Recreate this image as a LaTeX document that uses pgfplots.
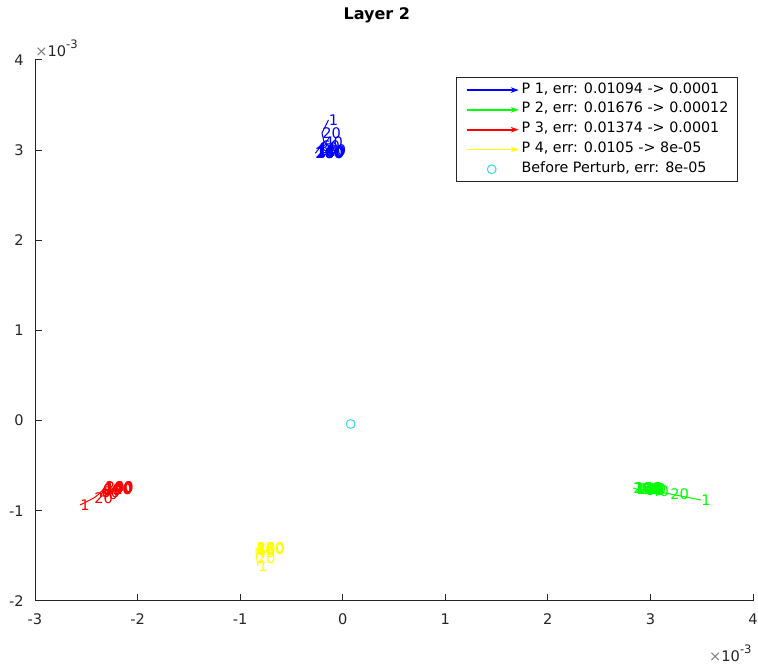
\documentclass[border=0pt]{standalone}
\usepackage{fontspec}
\setmainfont{DejaVu Sans}
\usepackage{pgfplots}
\usepackage{pgfplotstable}
\pgfplotsset{compat=1.18}
\usetikzlibrary{arrows.meta}
\definecolor{axgray}{rgb}{0.15,0.15,0.15}
\definecolor{mblue}{rgb}{0,0,1}
\definecolor{mgreen}{rgb}{0,1,0}
\definecolor{mred}{rgb}{1,0,0}
\definecolor{myellow}{rgb}{1,1,0}
\definecolor{mcyan}{rgb}{0.2,0.85,0.9}

\pgfplotstableread{
it x y
1 -0.139 3.335
20 -0.202 3.190
40 -0.182 3.091
60 -0.212 3.046
80 -0.231 3.024
100 -0.241 3.002
120 -0.251 2.991
140 -0.256 2.980
160 -0.260 2.974
180 -0.265 2.969
200 -0.270 2.969
}\pone
\pgfplotstableread{
it x y
1 3.493 -0.880
20 3.191 -0.813
40 2.996 -0.780
60 2.947 -0.769
80 2.908 -0.763
100 2.879 -0.758
120 2.860 -0.758
140 2.850 -0.752
160 2.840 -0.747
180 2.835 -0.747
200 2.830 -0.747
}\ptwo
\pgfplotstableread{
it x y
1 -2.561 -0.935
20 -2.425 -0.857
40 -2.376 -0.813
60 -2.357 -0.791
80 -2.342 -0.774
100 -2.332 -0.763
120 -2.327 -0.758
140 -2.322 -0.747
160 -2.318 -0.741
180 -2.318 -0.736
200 -2.313 -0.736
}\pthree
\pgfplotstableread{
it x y
1 -0.826 -1.612
20 -0.840 -1.523
40 -0.845 -1.460
60 -0.845 -1.440
80 -0.845 -1.428
100 -0.845 -1.420
120 -0.845 -1.416
140 -0.843 -1.414
160 -0.842 -1.412
180 -0.841 -1.412
200 -0.840 -1.412
}\pfour

\newcommand{\fs}{\fontsize{7.3}{8.8}\selectfont}
\newcommand{\fl}{\fontsize{7.15}{8.6}\selectfont}
\pgfplotsset{
  lbl/.style={forget plot, draw=none, mark=none, nodes near coords, point meta=explicit symbolic,
    every node near coord/.style={anchor=west, inner sep=0pt, font=\fs, text=#1}},
  arrowleg/.style={legend image code/.code={\draw[draw=#1, fill=#1, line width=0.9pt, -{Stealth[length=4pt,width=2.8pt]}] (0pt,0pt) -- (26pt,0pt);}},
  circleg/.style={legend image code/.code={\path[draw=none, fill=none] (0pt,0pt) -- (26pt,0pt); \draw[draw=mcyan, fill=none, line width=0.5pt] (12.5pt,0pt) circle[radius=2.2pt];}},
}

\begin{document}
\begin{tikzpicture}
\begin{axis}[
  scale only axis, width=359pt, height=270.5pt,
  xmin=-3, xmax=4, ymin=-2, ymax=4,
  axis x line*=bottom, axis y line*=left,
  xtick={-3,-2,...,4}, ytick={-2,-1,...,4},
  tick align=inside, major tick length=3.5pt,
  tick style={axgray, line width=0.5pt},
  axis line style={axgray, line width=0.5pt, -},
  every tick label/.append style={font=\fs, text=axgray},
  /pgf/number format/assume math mode=true,
  xticklabel style={inner sep=0pt, yshift=-6pt},
  yticklabel style={inner sep=0pt, xshift=-5.5pt},
  scaled ticks=false,
  clip=false,
  legend cell align=left,
  legend style={at={(0.979,0.9686)}, anchor=north east, draw=axgray, line width=0.5pt,
    inner xsep=4.5pt, inner ysep=2.8pt, font=\fl,
    nodes={inner sep=0pt, text height=5pt, text depth=2pt},
    row sep=2.9pt, column sep=1pt},
]
\coordinate (SW) at (rel axis cs:0,0);
\coordinate (NE) at (rel axis cs:1,1);

\addplot[mblue, line width=0.5pt, mark=none, arrowleg=mblue] table[x=x,y=y] {\pone};
\addlegendentry{P 1, err: 0.01094 -> 0.0001}
\addplot[mgreen, line width=0.5pt, mark=none, arrowleg=mgreen] table[x=x,y=y] {\ptwo};
\addlegendentry{P 2, err: 0.01676 -> 0.00012}
\addplot[mred, line width=0.5pt, mark=none, arrowleg=mred] table[x=x,y=y] {\pthree};
\addlegendentry{P 3, err: 0.01374 -> 0.0001}
\addplot[myellow, line width=0.5pt, mark=none, arrowleg=myellow] table[x=x,y=y] {\pfour};
\addlegendentry{P 4, err: 0.0105 -> 8e-05}
\addplot[mcyan, only marks, mark=o, mark size=2.2pt, mark options={line width=0.5pt}, circleg]
  coordinates {(0.078,-0.037)};
\addlegendentry{Before Perturb, err: 8e-05}

\addplot[lbl=mblue] table[x=x,y=y,meta=it] {\pone};
\addplot[lbl=mgreen] table[x=x,y=y,meta=it] {\ptwo};
\addplot[lbl=mred] table[x=x,y=y,meta=it] {\pthree};
\addplot[lbl=myellow] table[x=x,y=y,meta=it] {\pfour};

\node[anchor=base, font=\bfseries\fontsize{8}{10}\selectfont] at ([yshift=20pt]rel axis cs:0.476,1) {Layer 2};
\node[anchor=base west, inner sep=0pt, font=\fs, text=axgray] at ([yshift=1.5pt]rel axis cs:0,1)
  {{\color{gray}×}10\raisebox{4.3pt}{\fontsize{5.8}{6}\selectfont -3}};
\node[anchor=base east, inner sep=0pt, font=\fs, text=axgray] at ([xshift=-0.5pt,yshift=-30.5pt]rel axis cs:1,0)
  {{\color{gray}×}10\raisebox{4.3pt}{\fontsize{5.8}{6}\selectfont -3}};
\end{axis}
\pgfresetboundingbox
\path[use as bounding box] ([xshift=-17.5pt,yshift=-31.5pt]SW) rectangle ([xshift=2.5pt,yshift=30pt]NE);
\end{tikzpicture}
\end{document}
